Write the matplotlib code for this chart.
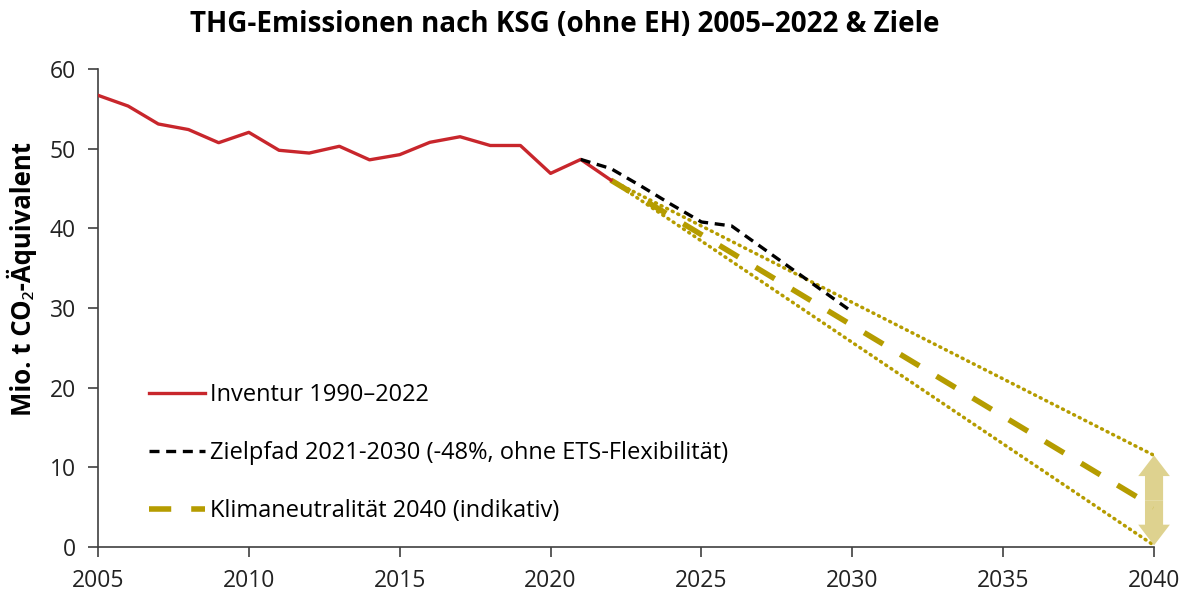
import matplotlib
matplotlib.use("Agg")
import matplotlib.pyplot as plt

plt.rcParams['font.family'] = ['Open Sans', 'Noto Sans', 'DejaVu Sans']

# Inventur
years_inv = [2005, 2006, 2007, 2008, 2009, 2010, 2011, 2012, 2013, 2014,
             2015, 2016, 2017, 2018, 2019, 2020, 2021, 2022]
inv = [56.7, 55.35, 53.1, 52.4, 50.75, 52.05, 49.8, 49.45, 50.3, 48.6,
       49.25, 50.8, 51.5, 50.4, 50.4, 46.9, 48.65, 46.05]

# Zielpfad 2021-2030
years_ziel = [2021, 2022, 2023, 2024, 2025, 2026, 2027, 2028, 2029, 2030]
ziel = [48.65, 47.5, 45.3, 43.0, 40.8, 40.3, 37.6, 34.9, 32.2, 29.5]

# Klimaneutralitaet 2040 (indikativ) with range
years_kn = [2022, 2040]
kn_mid = [46.05, 5.0]
kn_high = [46.05, 11.5]
kn_low = [46.05, 0.2]

red = '#c8262c'
gold = '#b59c00'

fig = plt.figure(figsize=(11.89, 5.95), dpi=100)
ax = fig.add_axes([0.0824, 0.0807, 0.8882, 0.8033])

ax.plot(years_inv, inv, color=red, lw=2.4, label='Inventur 1990–2022', zorder=4)
ax.plot(years_ziel, ziel, color='black', lw=2.4, ls=(0, (3, 2)),
        label='Zielpfad 2021-2030 (-48%, ohne ETS-Flexibilität)', zorder=5)
ax.plot(years_kn, kn_mid, color=gold, lw=4, ls=(0, (4, 3.6)),
        label='Klimaneutralität 2040 (indikativ)', zorder=3)
ax.plot(years_kn, kn_high, color=gold, lw=2.5, ls=(0, (0.3, 1.5)),
        dash_capstyle='round', zorder=3)
ax.plot(years_kn, kn_low, color=gold, lw=2.5, ls=(0, (0.3, 1.5)),
        dash_capstyle='round', zorder=3)

# double arrow showing the range in 2040
x_end = years_kn[1]
y_c = (kn_low[1] + kn_high[1]) / 2
for y_tip in (kn_high[1], kn_low[1]):
    ax.arrow(x_end, y_c, 0, y_tip - y_c, width=0.6, head_width=1.05,
             head_length=2.6, length_includes_head=True, color='#d9cb7c',
             alpha=0.85, lw=0, zorder=3.5, clip_on=False)

ax.set_xlim(2005, 2040)
ax.set_ylim(0, 60)
ax.set_xticks(range(2005, 2041, 5))
ax.set_yticks(range(0, 61, 10))
for s in ['top', 'right']:
    ax.spines[s].set_visible(False)
for s in ['left', 'bottom']:
    ax.spines[s].set_color('#404040')
    ax.spines[s].set_linewidth(1.2)
ax.tick_params(axis='both', labelsize=16.5, colors='#404040', labelcolor='#222222',
               length=7, width=1.2, direction='out', pad=9)

ax.set_ylabel('Mio. t CO₂-Äquivalent', fontsize=18.5, fontweight='bold')
ax.yaxis.set_label_coords(-0.058, 0.56)
fig.suptitle('THG-Emissionen nach KSG (ohne EH) 2005–2022 & Ziele',
             fontsize=20, fontweight='bold', x=0.475, y=0.983)

ax.legend(loc='lower left', bbox_to_anchor=(0.028, 0.005), frameon=False,
          fontsize=17, handlelength=2.4, handletextpad=0.2, labelspacing=1.45)

fig.savefig('out.png', dpi=100)
